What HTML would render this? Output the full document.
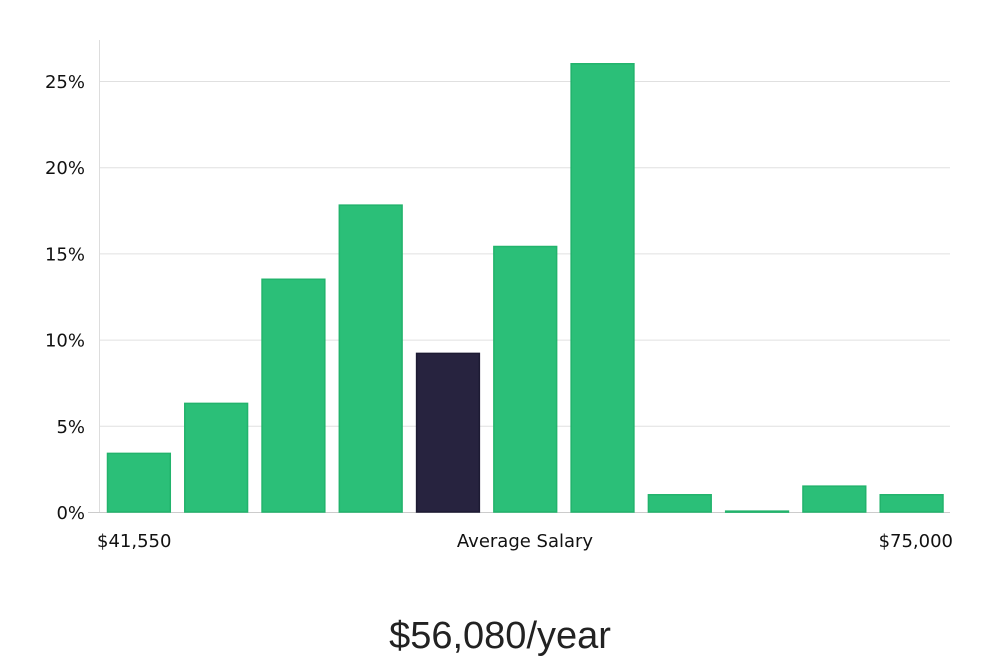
<!DOCTYPE html>
<html><head><meta charset="utf-8"><style>
html,body{margin:0;padding:0;background:#fff;width:1000px;height:660px;overflow:hidden}
svg text{font-family:"DejaVu Sans","Liberation Sans",sans-serif;fill:#111}
</style></head><body>
<svg id="chart" width="1000" height="660" xmlns="http://www.w3.org/2000/svg">
<g id="grid"></g><g id="bars"></g><g id="labels"></g>
<text x="500" y="648" text-anchor="middle" style="font-family:'Liberation Sans',sans-serif;font-size:38px;font-weight:300;fill:#222">$56,080/year</text>
</svg>
<script>
const values = [3.4, 6.3, 13.5, 17.8, 9.2, 15.4, 26.0, 1.0, 0.05, 1.5, 1.0];
const highlight = [false, false, false, false, true, false, false, false, false, false, false];
const yTicks = [0, 5, 10, 15, 20, 25];
const xLabels = ["$41,550", "Average Salary", "$75,000"];
const NS = "http://www.w3.org/2000/svg";
const x0 = 100, x1 = 950, y0 = 512, yTop = 81, vTop = 25;
const y = v => y0 - (v / vTop) * (y0 - yTop);
const step = (x1 - x0) / values.length;
const grid = document.getElementById('grid');
const bars = document.getElementById('bars');
const labels = document.getElementById('labels');
function mk(tag, attrs, parent){const e=document.createElementNS(NS,tag);for(const k in attrs)e.setAttribute(k,attrs[k]);parent.appendChild(e);return e;}
const ax = mk('line',{x1:99.5,x2:99.5,y1:40,y2:y0,stroke:'#ddd'},grid);


yTicks.forEach(t=>{
  const l = mk('line',{x1:t===0?88:100,x2:x1,y1:y(t)+0.5,y2:y(t)+0.5,stroke:t===0?'#ccc':'#e0e0e0'},grid);
  
  
  const tx = mk('text',{x:85,y:y(t)+7,'text-anchor':'end','font-size':18},labels);
  tx.textContent = t+'%';
  
  
});
values.forEach((v,i)=>{
  const bx = x0 + i*step + 7.5, w = step - 14.5;
  const r = mk('rect',{x:bx,y:y(v),width:w,height:Math.max(y0-y(v),1),fill:highlight[i]?'#27233f':'#2bbf78',stroke:highlight[i]?'#1d1a33':'#22b36c','stroke-width':1.5},bars);
  
  
});
const xl = [[97,'start'],[525,'middle'],[953,'end']];
xLabels.forEach((s,i)=>{
  const t = mk('text',{x:xl[i][0],y:547,'text-anchor':xl[i][1],'font-size':18},labels);
  t.textContent = s;
  
  
});
</script>
</body></html>
